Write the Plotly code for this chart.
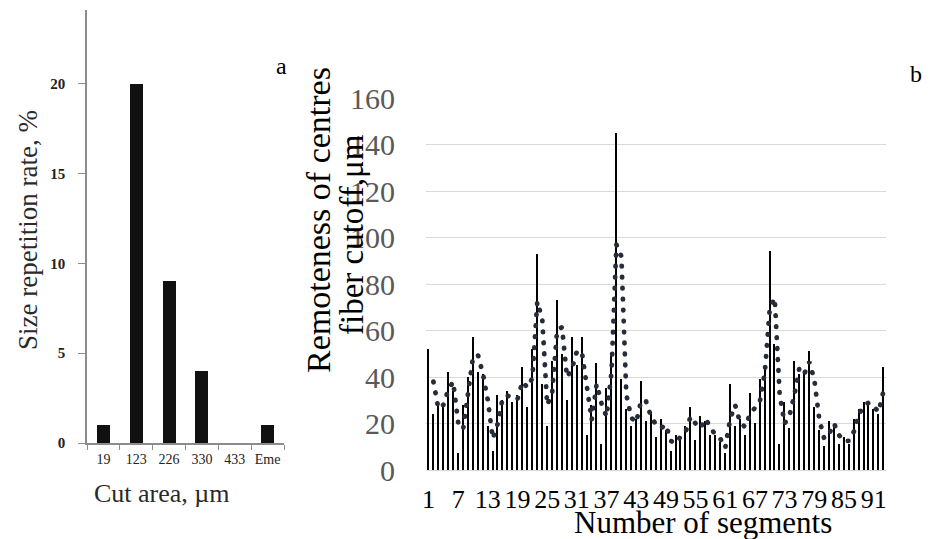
import plotly.graph_objects as go

W, H = 934, 539

# ---- panel a data ----
cut_area_labels = ["19", "123", "226", "330", "433", "Eme"]
repetition_rate = [1, 20, 9, 4, 0, 1]

# ---- panel b data ----
segment_numbers = list(range(1, 94))
centre_distance = [52, 24, 29, 27, 42, 34, 7, 28, 40, 57,
                   42, 41, 19, 8, 32, 30, 34, 29, 32, 44,
                   27, 52, 93, 37, 19, 47, 73, 50, 30, 57,
                   45, 57, 15, 28, 46, 11, 35, 49, 145, 39,
                   26, 19, 22, 38, 21, 25, 14, 22, 17, 8,
                   15, 14, 19, 27, 13, 23, 21, 15, 15, 12,
                   7, 37, 19, 22, 15, 33, 20, 39, 45, 94,
                   54, 11, 29, 18, 47, 41, 42, 51, 27, 17,
                   10, 21, 19, 11, 14, 11, 22, 26, 29, 29,
                   26, 24, 44]
segment_tickvals = [1, 7, 13, 19, 25, 31, 37, 43, 49, 55, 61, 67, 73, 79, 85, 91]
y2_tickvals = [0, 20, 40, 60, 80, 100, 120, 140, 160]

# 2-period moving average trendline (as the spreadsheet draws it)
mov_avg_x = segment_numbers[1:]
mov_avg_y = [(a + b) / 2 for a, b in zip(centre_distance[:-1], centre_distance[1:])]

SERIF = "Liberation Serif"


def px(x):
    return x / W


def py(y):
    return 1 - y / H


fig = go.Figure()
fig.add_trace(go.Bar(x=cut_area_labels, y=repetition_rate, xaxis="x", yaxis="y",
                     marker=dict(color="#111111", line_width=0), width=0.4,
                     showlegend=False))
fig.add_trace(go.Bar(x=segment_numbers, y=centre_distance, xaxis="x2", yaxis="y2",
                     marker=dict(color="#000000", line_width=0), width=0.3,
                     showlegend=False))
fig.add_trace(go.Scatter(x=mov_avg_x, y=mov_avg_y, xaxis="x2", yaxis="y2",
                         mode="lines", name="2 per. Mov. Avg.",
                         line=dict(color="#262d39", width=4.8, dash="0.5px,10.5px"),
                         showlegend=False))

fig.update_layout(
    width=W, height=H, autosize=False,
    margin=dict(l=0, r=0, t=0, b=0),
    paper_bgcolor="white", plot_bgcolor="white",
    font=dict(family=SERIF, color="#000000"),
    bargap=0,
    xaxis=dict(domain=[px(87), px(284)], anchor="y", type="category",
               range=[-0.5, 5.5], showline=True, linecolor="#8c8c8c", linewidth=1.5,
               ticks="outside", tickson="boundaries", ticklen=5, tickcolor="#8c8c8c",
               tickwidth=1.2, showgrid=False, automargin=False, tickangle=0,
               tickfont=dict(family=SERIF, size=14, color="#222222"), ticklabelstandoff=2),
    yaxis=dict(domain=[py(443), py(10)], anchor="x", range=[0, 24.1],
               showline=True, linecolor="#8c8c8c", linewidth=1.5,
               ticks="outside", ticklen=7, tickcolor="#8c8c8c", tickwidth=1.2,
               tickvals=[0, 5, 10, 15, 20], showgrid=False, zeroline=False,
               automargin=False, ticklabelstandoff=10,
               tickfont=dict(family=SERIF, size=15, color="#222222", weight="bold")),
    xaxis2=dict(domain=[px(426), px(886)], anchor="y2", range=[0.5, 93.5],
                tickvals=segment_tickvals, ticktext=[str(v) for v in segment_tickvals],
                showline=False, showgrid=False, zeroline=False, ticks="",
                tickangle=0, automargin=False, ticklabelstandoff=11,
                tickfont=dict(family=SERIF, size=26, color="#000000")),
    yaxis2=dict(domain=[py(470), py(98.3)], anchor="x2", range=[0, 160],
                tickvals=y2_tickvals, showgrid=True, gridcolor="#d9d9d9", gridwidth=1.4,
                zeroline=True, zerolinecolor="#d9d9d9", zerolinewidth=1.4,
                showline=False, ticks="", automargin=False, ticklabelstandoff=30,
                tickfont=dict(family=SERIF, size=30, color="#595959")),
)

ann = [
    dict(text="a", x=px(281), y=py(66), size=24, angle=0, color="#000000"),
    dict(text="b", x=px(916), y=py(74), size=24, angle=0, color="#000000"),
    dict(text="Size repetition rate, %", x=px(28), y=py(230), size=27, angle=-90, color="#2a2a2a"),
    dict(text="Cut area, µm", x=px(162), y=py(493), size=26, angle=0, color="#2a2a2a"),
    dict(text="Remoteness of centres", x=px(318), y=py(220), size=34, angle=-90, color="#000000"),
    dict(text="fiber cutoff,μm", x=px(352), y=py(235), size=33, angle=-90, color="#000000"),
    dict(text="Number of segments", x=px(703), y=py(522), size=31, angle=0, color="#000000"),
]
fig.update_layout(annotations=[
    dict(text=a["text"], x=a["x"], y=a["y"], xref="paper", yref="paper",
         xanchor="center", yanchor="middle", showarrow=False, textangle=a["angle"],
         font=dict(family=SERIF, size=a["size"], color=a["color"]))
    for a in ann
])

post = ("document.body.style.margin='0';document.body.style.overflow='hidden';"
        "var s=document.createElement('style');"
        "s.textContent='.scatterlayer .js-line{stroke-linecap:round !important;}';"
        "document.head.appendChild(s);")
fig.write_html("out.html", post_script=post, config={"displayModeBar": False})
